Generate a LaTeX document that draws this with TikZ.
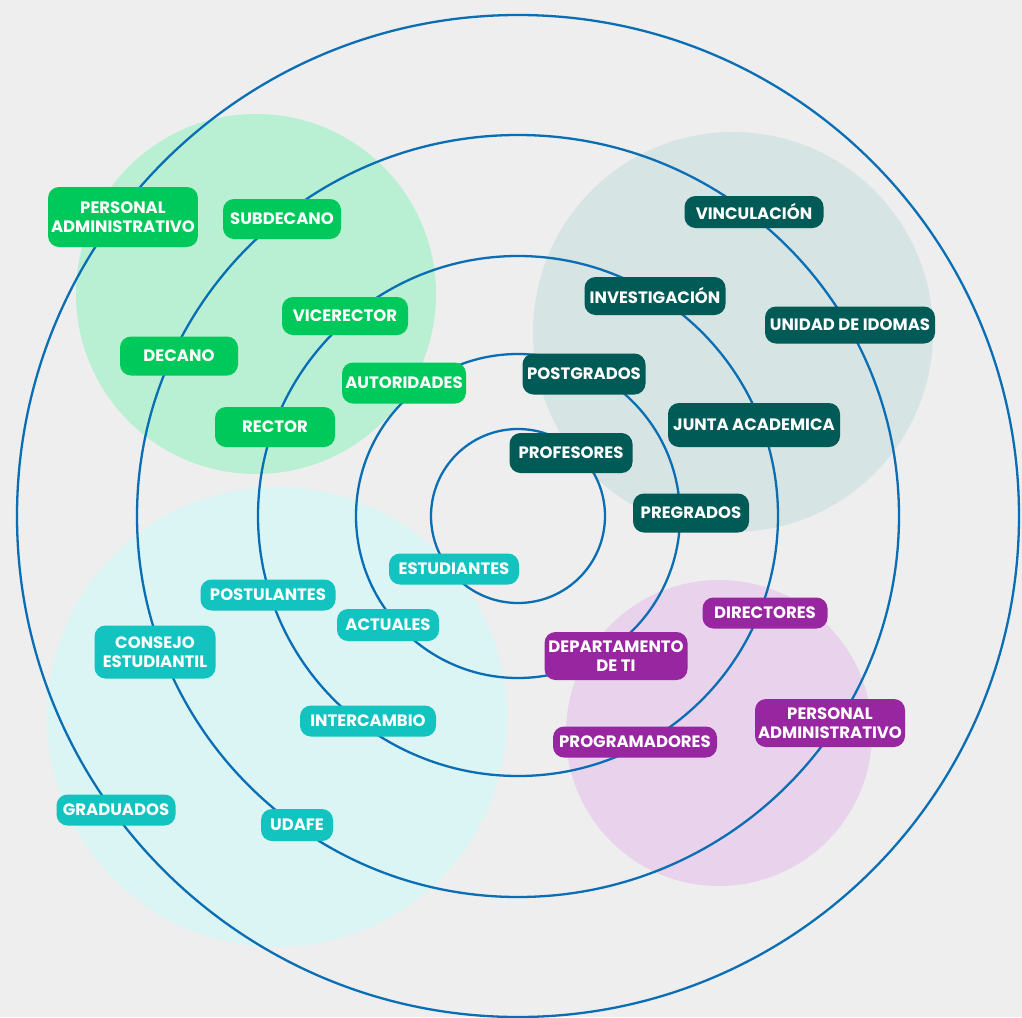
\documentclass[tikz,border=0pt]{standalone}
\usepackage{fontspec}
\setmainfont{Poppins}
\usepackage{xcolor}
\definecolor{pagebg}{HTML}{EEEEEE}
\definecolor{ringblue}{HTML}{0A6EB4}
\definecolor{grn}{HTML}{00C95C}
\definecolor{grnlight}{HTML}{B9F0D4}
\definecolor{tealdark}{HTML}{005A56}
\definecolor{teallight}{HTML}{D6E4E4}
\definecolor{cyn}{HTML}{12C3C0}
\definecolor{cynlight}{HTML}{DAF5F4}
\definecolor{purp}{HTML}{9826A0}
\definecolor{purplight}{HTML}{E8D2EC}
\tikzset{
  ring/.style = {draw=ringblue, line width=2.3pt}
}
\tikzset{
  stake/.style = {rounded corners=11pt, text=white, align=center,
    inner xsep=3pt, inner ysep=0pt,
    font=\fontsize{16.5}{19.5}\selectfont\bfseries}
}
\tikzset{
  green stake/.style = {stake, fill=grn},
  teal stake/.style = {stake, fill=tealdark},
  cyan stake/.style = {stake, fill=cyn},
  purple stake/.style = {stake, fill=purp}
}
\begin{document}
\begin{tikzpicture}[x=1pt, y=-1pt]
  \useasboundingbox (0,0) rectangle (1022,1017);
  \fill[pagebg] (0,0) rectangle (1022,1017);
  \clip (0,0) rectangle (1022,1017);

  % Group areas
  \fill[grnlight] (256,294) circle[radius=180];
  \fill[teallight] (733,332) circle[radius=200];
  \fill[cynlight] (277,717) circle[radius=230];
  \fill[purplight] (719,733) circle[radius=153];

  % Rings
  \foreach \r in {87,162,260,381,501}
    \draw[ring] (518,516) circle[radius=\r];

  % Autoridades
  \node[green stake, minimum width=144, minimum height=60] (persadmg) at (123,217) {PERSONAL\\ADMINISTRATIVO};
  \node[green stake, minimum width=118, minimum height=40] (subdecano) at (282,219) {SUBDECANO};
  \node[green stake, minimum width=126, minimum height=38] (vicerector) at (345,316) {VICERECTOR};
  \node[green stake, minimum width=118, minimum height=39] (decano) at (179,356) {DECANO};
  \node[green stake, minimum width=124, minimum height=41] (autoridades) at (404,383) {AUTORIDADES};
  \node[green stake, minimum width=120, minimum height=40] (rector) at (275,427) {RECTOR};

  % Profesores
  \node[teal stake, minimum width=139, minimum height=32] (vinculacion) at (754,212) {VINCULACIÓN};
  \node[teal stake, minimum width=141, minimum height=38] (investigacion) at (655,296) {INVESTIGACIÓN};
  \node[teal stake, minimum width=170, minimum height=37] (idiomas) at (850,325) {UNIDAD DE IDOMAS};
  \node[teal stake, minimum width=123, minimum height=41] (postgrados) at (584,374) {POSTGRADOS};
  \node[teal stake, minimum width=172, minimum height=44] (junta) at (754,425) {JUNTA ACADEMICA};
  \node[teal stake, minimum width=123, minimum height=40] (profesores) at (571,453) {PROFESORES};
  \node[teal stake, minimum width=116, minimum height=39] (pregrados) at (691,513) {PREGRADOS};

  % Estudiantes
  \node[cyan stake, minimum width=130, minimum height=31] (estudiantes) at (454,569) {ESTUDIANTES};
  \node[cyan stake, minimum width=135, minimum height=31] (postulantes) at (268,595) {POSTULANTES};
  \node[cyan stake, minimum width=102, minimum height=32] (actuales) at (388,625) {ACTUALES};
  \node[cyan stake, minimum width=121, minimum height=53] (consejo) at (155,652) {CONSEJO\\ESTUDIANTIL};
  \node[cyan stake, minimum width=136, minimum height=31] (intercambio) at (368,721) {INTERCAMBIO};
  \node[cyan stake, minimum width=119, minimum height=31] (graduados) at (116,810) {GRADUADOS};
  \node[cyan stake, minimum width=72, minimum height=32] (udafe) at (297,825) {UDAFE};

  % Departamento de TI
  \node[purple stake, minimum width=125, minimum height=31] (directores) at (765,613) {DIRECTORES};
  \node[purple stake, minimum width=143, minimum height=48] (depti) at (616,656) {DEPARTAMENTO\\DE TI};
  \node[purple stake, minimum width=164, minimum height=31] (programadores) at (635,742) {PROGRAMADORES};
  \node[purple stake, minimum width=150, minimum height=48] (persadmp) at (830,723) {PERSONAL\\ADMINISTRATIVO};
\end{tikzpicture}
\end{document}
